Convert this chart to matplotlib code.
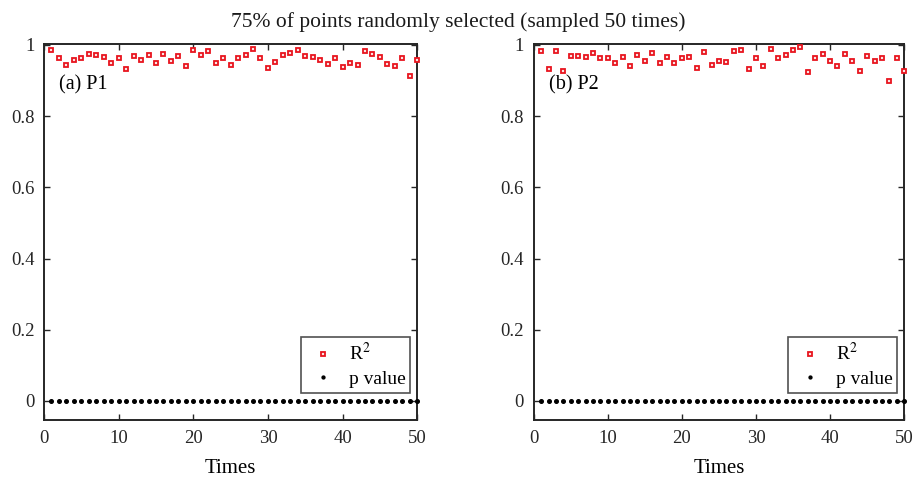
import numpy as np
import matplotlib
matplotlib.use("Agg")
import matplotlib.pyplot as plt

plt.rcParams["font.family"] = ["Liberation Serif", "DejaVu Serif"]
plt.rcParams["mathtext.fontset"] = "stix"

# sampling runs
times = list(range(1, 51))

# R^2 values (a) P1
r2_p1 = [0.985, 0.962, 0.943, 0.958, 0.964, 0.975, 0.971, 0.967, 0.949, 0.962,
         0.932, 0.968, 0.958, 0.972, 0.949, 0.975, 0.955, 0.968, 0.940, 0.985,
         0.971, 0.982, 0.949, 0.962, 0.943, 0.964, 0.972, 0.989, 0.962, 0.934,
         0.952, 0.972, 0.978, 0.986, 0.968, 0.965, 0.959, 0.947, 0.964, 0.937,
         0.949, 0.944, 0.983, 0.974, 0.965, 0.947, 0.941, 0.962, 0.913, 0.959]

# R^2 values (b) P2
r2_p2 = [0.982, 0.933, 0.983, 0.926, 0.968, 0.968, 0.965, 0.978, 0.962, 0.962,
         0.949, 0.965, 0.941, 0.973, 0.956, 0.977, 0.949, 0.965, 0.949, 0.962,
         0.965, 0.934, 0.980, 0.943, 0.956, 0.952, 0.982, 0.986, 0.931, 0.964,
         0.940, 0.989, 0.964, 0.971, 0.985, 0.995, 0.925, 0.962, 0.974, 0.955,
         0.940, 0.974, 0.955, 0.928, 0.968, 0.955, 0.964, 0.898, 0.964, 0.928]

# p values (all essentially zero)
p_p1 = [0.0] * 50
p_p2 = [0.0] * 50

panel_labels = ["(a) P1", "(b) P2"]
yticks = [0, 0.2, 0.4, 0.6, 0.8, 1]
ytick_labels = ["0", "0.2", "0.4", "0.6", "0.8", "1"]
xticks = [0, 10, 20, 30, 40, 50]

fig = plt.figure(figsize=(9.17, 4.82), dpi=100)
ax1 = fig.add_axes([0.048, 0.129, 0.407, 0.78])
ax2 = fig.add_axes([0.582, 0.129, 0.404, 0.78])

for ax, r2, pv, lab in [(ax1, r2_p1, p_p1, panel_labels[0]), (ax2, r2_p2, p_p2, panel_labels[1])]:
    ax.plot(times, r2, linestyle="none", marker="s", markersize=3.4,
            markerfacecolor="#fbe3e3", markeredgecolor="#e8141e", markeredgewidth=1.3,
            label=r"R$^2$", clip_on=False, zorder=3)
    ax.plot(times, pv, linestyle="none", marker="o", markersize=2.6,
            color="black", label="p value", clip_on=False, zorder=3)
    ax.set_xlim(0, 50)
    ax.set_ylim(-0.053, 1.003)
    ax.set_xticks(xticks)
    ax.set_yticks(yticks)
    ax.set_yticklabels(ytick_labels)
    ax.tick_params(direction="in", length=4, width=1, labelsize=13.5,
                   top=True, right=True, colors="#262626", pad=7)
    ax.tick_params(axis="x", pad=7)
    for sp in ax.spines.values():
        sp.set_linewidth(1.4)
        sp.set_color("#262626")
    ax.set_xlabel("Times", fontsize=15, labelpad=9)
    ax.text(2.0, 0.875, lab, fontsize=14.5)
    leg = ax.legend(loc="lower right", bbox_to_anchor=(0.981, 0.072), fontsize=14,
                    frameon=True, fancybox=False, handletextpad=0.4,
                    borderpad=0.25, labelspacing=0.3, handlelength=1.8,
                    borderaxespad=0, markerscale=0.8)
    leg.get_frame().set_edgecolor("#262626")
    leg.get_frame().set_linewidth(1.2)

fig.text(0.5, 0.955, "75% of points randomly selected (sampled 50 times)",
         ha="center", va="center", fontsize=15.5, color="#1a1a1a")

fig.savefig("out.png", dpi=100)
